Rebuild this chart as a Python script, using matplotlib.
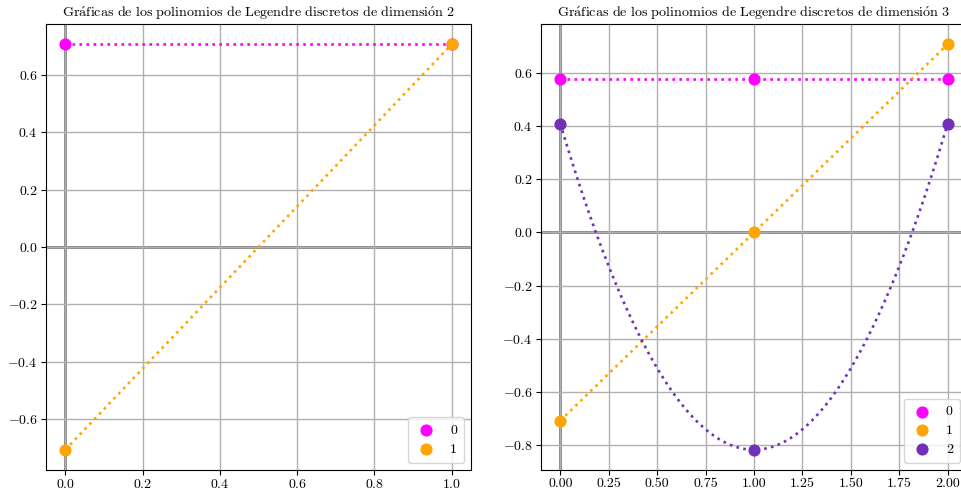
import matplotlib
matplotlib.use("Agg")
import matplotlib.pyplot as plt
import numpy as np

plt.rcParams["font.family"] = "serif"
plt.rcParams["font.serif"] = ["cmr10", "DejaVu Serif"]
plt.rcParams["mathtext.fontset"] = "cm"
plt.rcParams["axes.formatter.use_mathtext"] = True
plt.rcParams["axes.unicode_minus"] = True

COLORS = ["#ff00ff", "#ffa500", "#7030b8"]

# dimension 2
x2 = [0, 1]
p2_0 = [0.7071, 0.7071]
p2_1 = [-0.7071, 0.7071]

# dimension 3
x3 = [0, 1, 2]
p3_0 = [0.5774, 0.5774, 0.5774]
p3_1 = [-0.7071, 0.0, 0.7071]
p3_2 = [0.4082, -0.8165, 0.4082]

polys = {2: (x2, [p2_0, p2_1]), 3: (x3, [p3_0, p3_1, p3_2])}

fig = plt.figure(figsize=(9.62, 4.93), dpi=100)
ax_left = fig.add_axes([46 / 962, 1 - 470 / 493, 425 / 962, 446 / 493])
ax_right = fig.add_axes([541 / 962, 1 - 470 / 493, 426 / 962, 446 / 493])

for ax, dim in [(ax_left, 2), (ax_right, 3)]:
    xs, ys_list = polys[dim]
    ax.grid(True, color="#b0b0b0", linewidth=1.0, zorder=0)
    ax.axhline(0, color="gray", linewidth=2, zorder=1)
    ax.axvline(0, color="gray", linewidth=2, zorder=1)
    for k, ys in enumerate(ys_list):
        if len(xs) > 2:
            # polynomial of degree k through the sample points, drawn smooth
            coef = np.polyfit(xs, ys, k)
            xx = np.linspace(xs[0], xs[-1], 200)
            ax.plot(xx, np.polyval(coef, xx), ":", color=COLORS[k], linewidth=1.9, zorder=2)
        else:
            ax.plot(xs, ys, ":", color=COLORS[k], linewidth=1.9, zorder=2)
        ax.scatter(xs, ys, s=60, color=COLORS[k], label=str(k), zorder=3)
    title = (r"$\mathrm{Gr\acute{a}ficas\ de\ los\ polinomios\ de\ Legendre\ discretos"
             r"\ de\ dimensi\acute{o}n\ " + str(dim) + "}$")
    ax.set_title(title, fontsize=10.2, pad=5)
    ax.legend(loc="lower right", fontsize=10, handletextpad=0.9, borderpad=0.5,
              handlelength=1.6, labelspacing=0.45)
    ax.tick_params(labelsize=10, pad=2.5)

ax_left.set_xticks([0.0, 0.2, 0.4, 0.6, 0.8, 1.0])
ax_right.set_xticks([0.0, 0.25, 0.5, 0.75, 1.0, 1.25, 1.5, 1.75, 2.0])
ax_right.xaxis.set_major_formatter(matplotlib.ticker.FormatStrFormatter("%.2f"))

fig.savefig("out.png", dpi=100)
